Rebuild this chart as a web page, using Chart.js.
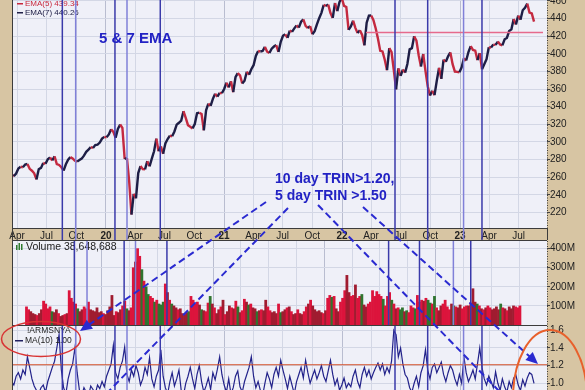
<!DOCTYPE html>
<html>
<head>
<meta charset="utf-8">
<script src="https://cdn.jsdelivr.net/npm/chart.js@4.4.0/dist/chart.umd.min.js"></script>
<style>
  html, body { margin: 0; padding: 0; width: 585px; height: 390px; overflow: hidden; background: #d7c5a3; }
  canvas { position: absolute; left: 0; }
  #price { top: 0; }
  #vol { top: 240px; }
  #trin { top: 325px; }
  #overlay { top: 0; pointer-events: none; }
</style>
</head>
<body>
<canvas id="price" width="585" height="240"></canvas>
<canvas id="vol" width="585" height="85"></canvas>
<canvas id="trin" width="585" height="65"></canvas>
<canvas id="overlay" width="585" height="390"></canvas>
<script>
// weekly data, first week = Fri 15 Mar 2019 (as decimal year)
const firstWeek = 2019.2;
const weekStep = 7 / 365.25;

// weekly closes (adjusted)
const closes = [
  263.0, 261.1, 264.1, 269.8, 271.8, 271.2, 274.3, 274.9, 269.4, 267.3,
  264.4, 257.4, 269.0, 270.5, 276.1, 275.1, 280.3, 282.3, 279.0, 283.6,
  274.8, 273.8, 271.2, 267.5, 274.6, 279.8, 282.7, 281.3, 278.6, 277.6,
  279.4, 281.0, 284.4, 288.7, 291.3, 294.0, 293.2, 296.4, 296.9, 299.2,
  303.7, 305.7,
  // 2020
  305.3, 308.4, 314.4, 311.3, 304.7, 314.6, 319.7, 315.8, 280.6, 281.7,
  255.0, 217.6, 241.0, 236.0, 264.6, 272.6, 269.1, 268.9, 278.1, 272.3,
  281.0, 289.4, 303.7, 289.3, 294.8, 286.5, 298.2, 303.3, 307.2, 306.4,
  311.8, 319.5, 321.7, 324.2, 334.8, 327.2, 319.0, 317.1, 315.3, 320.2,
  332.6, 333.1, 331.6, 313.2, 335.8, 343.4, 340.8, 348.8, 354.7, 351.3,
  355.5, 355.3, 360.0,
  // 2021
  367.2, 361.8, 368.7, 356.4, 373.4, 378.1, 375.6, 366.3, 369.4, 379.5,
  376.2, 382.5, 387.0, 397.5, 403.1, 402.6, 403.1, 407.8, 402.4, 400.8,
  405.8, 408.2, 409.9, 402.1, 413.4, 420.3, 422.0, 418.0, 426.3, 424.9,
  428.8, 432.1, 429.6, 436.3, 439.0, 431.6, 429.0, 431.5, 422.1, 425.6,
  433.4, 440.4, 446.4, 455.4, 454.2, 455.8, 446.1, 440.7, 457.6, 448.4,
  458.8, 463.1,
  // 2022
  454.4, 453.1, 427.0, 430.9, 437.5, 429.4, 423.4, 426.8, 421.4, 409.6,
  435.2, 443.2, 443.4, 438.2, 428.6, 417.1, 403.3, 402.7, 393.3, 381.4,
  406.5, 401.9, 381.6, 359.6, 383.4, 374.8, 382.1, 378.6, 388.4, 405.0,
  406.4, 419.8, 415.0, 398.4, 385.6, 399.7, 380.6, 363.2, 352.5, 358.1,
  353.0, 369.4, 384.0, 371.5, 393.3, 390.9, 397.1, 401.6, 388.2, 379.8,
  379.5, 379.0,
  // 2023
  384.6, 394.9, 392.3, 402.0, 408.6, 404.4, 403.6, 392.8, 400.6, 382.4,
  388.0, 393.8, 407.3, 407.1, 410.4, 410.1, 413.8, 410.6, 409.5, 416.5,
  417.9, 425.8, 427.7, 439.5, 433.2, 443.3, 438.6, 449.3, 452.2, 456.9,
  446.8, 445.7, 436.5
];

// volume, millions (typical daily level for each week)
const volumesM = [
  95, 80, 70, 60, 55, 50, 60, 80, 125, 110, 85, 95, 70, 65, 80, 60, 45, 50, 55, 60,
  180, 140, 120, 110, 85, 70, 80, 95, 85, 120, 80, 75, 70, 90, 65, 70, 60, 55, 75, 95,
  155, 50,
  // 2020
  70, 65, 80, 100, 125, 85, 75, 90, 300, 330, 400, 360, 290, 230, 200, 160, 150, 140,
  120, 130, 110, 105, 120, 215, 170, 130, 110, 100, 90, 80, 85, 60, 55, 65, 70, 150,
  130, 110, 120, 105, 80, 75, 70, 115, 150, 110, 90, 60, 80, 95, 130, 55, 70,
  // 2021
  100, 90, 85, 125, 95, 65, 75, 135, 120, 105, 110, 90, 85, 70, 75, 80, 75, 130, 95,
  75, 65, 70, 60, 110, 65, 70, 80, 90, 95, 70, 55, 60, 80, 60, 55, 70, 95, 110, 130,
  100, 80, 70, 75, 65, 60, 75, 140, 155, 145, 150, 85, 70,
  // 2022
  120, 140, 180, 260, 170, 150, 155, 210, 140, 150, 160, 105, 95, 110, 120, 180, 150,
  175, 160, 150, 135, 100, 150, 170, 130, 110, 85, 90, 80, 90, 70, 75, 65, 100, 90, 85,
  155, 120, 130, 125, 140, 130, 115, 110, 150, 90, 75, 100, 110, 130, 95, 80,
  // 2023
  110, 100, 95, 90, 105, 85, 95, 100, 100, 115, 190, 120, 110, 100, 85, 80, 90, 100,
  90, 80, 85, 95, 80, 110, 90, 85, 75, 95, 85, 100, 95, 90, 100
];

// !ARMSNYA, 10 day moving average
const trinMA10 = [
  1.02, 0.98, 1.08, 1.12, 1.05, 1.15, 1.10, 1.30, 1.18, 1.05, 0.97, 0.92, 0.88, 0.95,
  0.98, 0.90, 1.02, 1.10, 1.18, 1.25, 1.40, 1.55, 1.15, 0.95, 0.88, 1.05, 1.15, 1.22,
  1.40, 1.12, 0.92, 0.86, 0.95, 0.90, 0.85, 0.97, 0.93, 0.88, 0.98, 0.94, 1.02, 0.96,
  // 2020
  1.08, 1.15, 1.22, 1.43, 1.12, 1.05, 1.18, 1.25, 1.41, 1.10, 1.02, 1.15, 1.08, 1.20,
  1.12, 0.98, 1.05, 1.18, 1.10, 1.29, 1.05, 0.96, 1.08, 1.15, 1.38, 1.08, 0.95, 0.88,
  1.02, 1.12, 0.97, 1.05, 1.15, 0.92, 0.86, 1.00, 1.08, 1.18, 1.05, 0.94, 1.10, 1.20,
  1.02, 0.90, 0.97, 1.06, 0.93, 1.12, 1.04, 1.16, 1.30, 1.10, 0.98,
  // 2021
  0.90, 1.05, 0.88, 0.95, 1.08, 1.14, 0.96, 0.90, 1.02, 1.10, 1.18, 1.30, 1.08, 0.95,
  1.02, 0.92, 0.86, 1.00, 1.12, 1.05, 0.95, 1.10, 1.18, 1.08, 1.26, 1.15, 1.05, 0.94,
  1.08, 0.98, 0.88, 1.02, 1.10, 1.18, 1.06, 1.26, 1.12, 1.00, 1.08, 1.15, 1.05, 1.12,
  1.20, 1.08, 1.02, 1.14, 1.26, 1.10, 0.98, 1.05, 0.92, 0.98,
  // 2022
  1.06, 0.95, 1.00, 0.96, 1.08, 1.15, 1.02, 0.95, 1.10, 1.18, 1.08, 1.15, 1.05, 1.12,
  1.18, 1.23, 1.15, 1.22, 1.10, 1.18, 1.12, 1.25, 1.60, 1.55, 1.30, 1.40, 1.22, 1.10,
  1.06, 0.95, 0.90, 1.00, 1.08, 0.96, 1.12, 1.20, 1.38, 1.15, 1.05, 1.18, 1.22, 1.12,
  1.18, 1.24, 1.10, 1.02, 1.12, 1.20, 1.15, 1.05, 0.98, 1.10,
  // 2023
  1.00, 1.30, 1.12, 1.02, 1.08, 1.15, 1.05, 1.22, 1.40, 1.18, 1.05, 0.98, 1.08, 1.02,
  0.95, 1.13, 1.00, 0.92, 1.05, 0.96, 0.90, 1.02, 0.95, 1.06, 1.09, 0.98, 0.92, 1.04,
  0.97, 1.06, 1.12, 1.10, 1.00
];

// TRIN signal days (vertical lines), decimal years
const signalDates = [2019.630, 2019.743, 2020.076, 2020.178, 2020.460, 2022.449, 2022.726, 2023.030, 2023.186];
const signalLight = [false, true, false, true, false, false, false, true, false];

const priceTicks = [220, 240, 260, 280, 300, 320, 340, 360, 380, 400, 420, 440, 460];
const volTicks = [100, 200, 300, 400];
const trinTicks = [1.0, 1.2, 1.4, 1.6];
const resistance = { value: 424, from: 2022.203, to: 2023.703 };
const trinLevel = 1.21;

const FONT = '"Liberation Sans", Arial, sans-serif';
const xMin = 2019.212, xMax = 2023.737;

const weekX = closes.map((_, i) => firstWeek + i * weekStep);

const quarterMonths = [[0, null], [90 / 365, 'Apr'], [181 / 365, 'Jul'], [273 / 365, 'Oct']];
const quarterTicks = [];
for (let y = 2019; y <= 2023; y++) {
  quarterMonths.forEach(([f, name]) => {
    const v = y + f;
    if (v > xMin && v < xMax) quarterTicks.push({ value: v, major: name === null, label: name || String(y).slice(2) });
  });
}

function xScale(showLabels) {
  return {
    type: 'linear', min: xMin, max: xMax,
    afterBuildTicks: s => { s.ticks = quarterTicks.map(q => ({ value: q.value, major: q.major })); },
    afterFit: s => { s.height = showLabels ? 12 : 0; s.paddingLeft = 0; s.paddingRight = 0; },
    grid: { color: c => (c.tick && c.tick.major) ? '#b9bdd0' : '#d3d7e5', drawTicks: false },
    border: { display: false },
    ticks: {
      display: showLabels, padding: 2, maxRotation: 0, autoSkip: false, color: '#222',
      font: c => ({ family: FONT, size: 10, weight: (c.tick && c.tick.major) ? 'bold' : 'normal' }),
      callback: (v, i) => quarterTicks[i] ? quarterTicks[i].label : ''
    }
  };
}

function yScale(min, max, ticks, fmt) {
  return {
    position: 'right', min: min, max: max,
    afterBuildTicks: s => { s.ticks = ticks.map(v => ({ value: v })); },
    afterFit: s => { s.width = 38; s.paddingTop = 0; s.paddingBottom = 0; },
    grid: { color: '#d3d7e5', tickLength: 3, tickColor: '#444' },
    border: { display: false },
    ticks: { padding: 0, color: '#222', font: { family: FONT, size: 10 }, callback: fmt }
  };
}

function panelPlugin(extra, topLine) {
  return {
    id: 'panel',
    beforeDraw(chart) {
      const a = chart.chartArea, c = chart.ctx;
      c.save();
      c.fillStyle = '#eff0f8';
      c.fillRect(a.left, a.top, a.right - a.left, a.bottom - a.top);
      c.restore();
    },
    afterDatasetsDraw(chart) {
      const a = chart.chartArea, c = chart.ctx, xs = chart.scales.x;
      c.save();
      if (extra) extra(chart, c, a);
      // signal lines run through every panel
      c.lineWidth = 1.5;
      signalDates.forEach((d, k) => {
        const px = xs.getPixelForValue(d);
        c.strokeStyle = signalLight[k] ? '#8080d8' : '#3a3aaa';
        c.beginPath(); c.moveTo(px, 0); c.lineTo(px, chart.height); c.stroke();
      });
      // frame
      c.strokeStyle = '#3c3c3c'; c.lineWidth = 1;
      c.beginPath();
      c.moveTo(a.left - 0.5, 0); c.lineTo(a.left - 0.5, chart.height);
      if (topLine) { c.moveTo(a.left, 0.5); c.lineTo(a.right, 0.5); }
      c.stroke();
      c.setLineDash([1, 1.5]);
      c.beginPath(); c.moveTo(a.right + 0.5, a.top); c.lineTo(a.right + 0.5, a.bottom); c.stroke();
      c.restore();
    }
  };
}

const baseOpts = {
  responsive: false, animation: false, events: [],
  plugins: { legend: { display: false }, tooltip: { enabled: false } }
};

// price panel
new Chart(document.getElementById('price'), {
  type: 'line',
  data: {
    datasets: [{
      data: closes.map((v, i) => ({ x: weekX[i], y: v })),
      borderWidth: 2.4, pointRadius: 0, tension: 0,
      borderColor: '#1e1e46',
      segment: { borderColor: c => c.p1.parsed.y < c.p0.parsed.y ? '#c42a40' : '#1e1e46' }
    }]
  },
  options: Object.assign({}, baseOpts, {
    layout: { padding: { left: 13, top: 0, right: 0, bottom: 0 } },
    scales: { x: xScale(true), y: yScale(202.3, 461, priceTicks, v => String(v)) }
  }),
  plugins: [panelPlugin((chart, c, a) => {
    const xs = chart.scales.x, ys = chart.scales.y;
    // resistance line
    c.strokeStyle = '#e66a8c'; c.lineWidth = 1.5;
    const ry = ys.getPixelForValue(resistance.value);
    c.beginPath(); c.moveTo(xs.getPixelForValue(resistance.from), ry); c.lineTo(xs.getPixelForValue(resistance.to), ry); c.stroke();
    // legend
    c.font = '8px ' + FONT; c.textBaseline = 'middle';
    c.fillStyle = '#c8283c'; c.fillRect(a.left + 4, 3, 6, 1.5);
    c.fillText('EMA(5) 439.34', a.left + 12, 3.5);
    c.fillStyle = '#202048'; c.fillRect(a.left + 4, 12, 6, 1.5);
    c.fillText('EMA(7) 440.26', a.left + 12, 12.5);
    // bottom border of price area and label strip
    c.strokeStyle = '#3c3c3c'; c.lineWidth = 1;
    c.beginPath(); c.moveTo(a.left, a.bottom + 0.5); c.lineTo(a.right, a.bottom + 0.5);
    c.moveTo(a.right + 0.5, a.bottom); c.lineTo(a.right + 0.5, chart.height); c.stroke();
  }, false)]
});

// volume panel
const volColors = volumesM.map((v, i) => {
  if (i === 0 || closes[i] < closes[i - 1]) return '#dc143c';
  return (closes[i] - closes[i - 1]) / closes[i - 1] > 0.025 ? '#2f742f' : '#a01c30';
});
new Chart(document.getElementById('vol'), {
  type: 'bar',
  data: {
    datasets: [{
      data: volumesM.map((v, i) => ({ x: weekX[i], y: v })),
      backgroundColor: volColors, borderWidth: 0,
      barPercentage: 1, categoryPercentage: 1, grouped: false
    }]
  },
  options: Object.assign({}, baseOpts, {
    layout: { padding: { left: 13, top: 1, right: 0, bottom: 0 } },
    scales: { x: xScale(false), y: yScale(0, 440, volTicks, v => v + 'M') }
  }),
  plugins: [panelPlugin((chart, c, a) => {
    c.fillStyle = '#2f7a2f';
    c.fillRect(a.left + 3, a.top + 4, 1.5, 5);
    c.fillRect(a.left + 5.5, a.top + 2, 1.5, 7);
    c.fillRect(a.left + 8, a.top + 3, 1.5, 6);
    c.fillStyle = '#222'; c.font = '10.5px ' + FONT; c.textBaseline = 'middle';
    c.fillText('Volume 38,648,688', a.left + 13, a.top + 6.5);
  }, true)]
});

// TRIN panel
new Chart(document.getElementById('trin'), {
  type: 'line',
  data: {
    datasets: [{
      data: trinMA10.map((v, i) => ({ x: weekX[i], y: v })),
      borderColor: '#22228a', borderWidth: 1.2, pointRadius: 0, tension: 0
    }]
  },
  options: Object.assign({}, baseOpts, {
    layout: { padding: { left: 13, top: 1, right: 0, bottom: 0 } },
    scales: { x: xScale(false), y: yScale(0.924, 1.649, trinTicks, v => v.toFixed(1)) }
  }),
  plugins: [panelPlugin((chart, c, a) => {
    const ty = chart.scales.y.getPixelForValue(trinLevel);
    c.strokeStyle = '#d4502a'; c.lineWidth = 1;
    c.beginPath(); c.moveTo(a.left, ty); c.lineTo(a.right, ty); c.stroke();
    c.fillStyle = '#222'; c.font = '8.5px ' + FONT; c.textBaseline = 'middle';
    c.fillText('!ARMSNYA', a.left + 14, a.top + 5);
    c.fillStyle = '#202060'; c.fillRect(a.left + 2, a.top + 14, 8, 1.5);
    c.fillStyle = '#222';
    c.fillText('MA(10) 1.00', a.left + 12, a.top + 15);
  }, true)]
});

// hand-drawn annotations
const ov = document.getElementById('overlay').getContext('2d');
ov.fillStyle = '#2222c4';
ov.font = 'bold 15px ' + FONT;
ov.fillText('5 & 7 EMA', 99, 43);
ov.font = 'bold 14px ' + FONT;
ov.fillText('10 day TRIN>1.20,', 275, 183);
ov.fillText('5 day TRIN >1.50', 275, 199.5);

function dashedArrow(x1, y1, x2, y2, head) {
  const ang = Math.atan2(y2 - y1, x2 - x1), cs = Math.cos(ang), sn = Math.sin(ang);
  ov.save();
  ov.strokeStyle = '#2a2ad0'; ov.fillStyle = '#2a2ad0';
  ov.lineWidth = 2; ov.setLineDash([7, 4]);
  ov.beginPath(); ov.moveTo(x1, y1);
  ov.lineTo(head ? x2 - cs * 10 : x2, head ? y2 - sn * 10 : y2);
  ov.stroke();
  if (head) {
    ov.setLineDash([]);
    ov.beginPath(); ov.moveTo(x2, y2);
    ov.lineTo(x2 - 12 * cs + 5.5 * sn, y2 - 12 * sn - 5.5 * cs);
    ov.lineTo(x2 - 12 * cs - 5.5 * sn, y2 - 12 * sn + 5.5 * cs);
    ov.closePath(); ov.fill();
  }
  ov.restore();
}
dashedArrow(266, 202, 80, 331, true);
dashedArrow(288, 208, 106, 394, false);
dashedArrow(318, 205, 500, 392, false);
dashedArrow(363, 207, 538, 364, true);

ov.lineWidth = 1.5; ov.strokeStyle = '#d83434';
ov.beginPath(); ov.ellipse(41, 339, 39.5, 17.5, 0, 0, Math.PI * 2); ov.stroke();
ov.lineWidth = 2; ov.strokeStyle = '#e8602c';
ov.beginPath(); ov.ellipse(550, 398, 37, 68, 0, 0, Math.PI * 2); ov.stroke();
</script>
</body>
</html>
